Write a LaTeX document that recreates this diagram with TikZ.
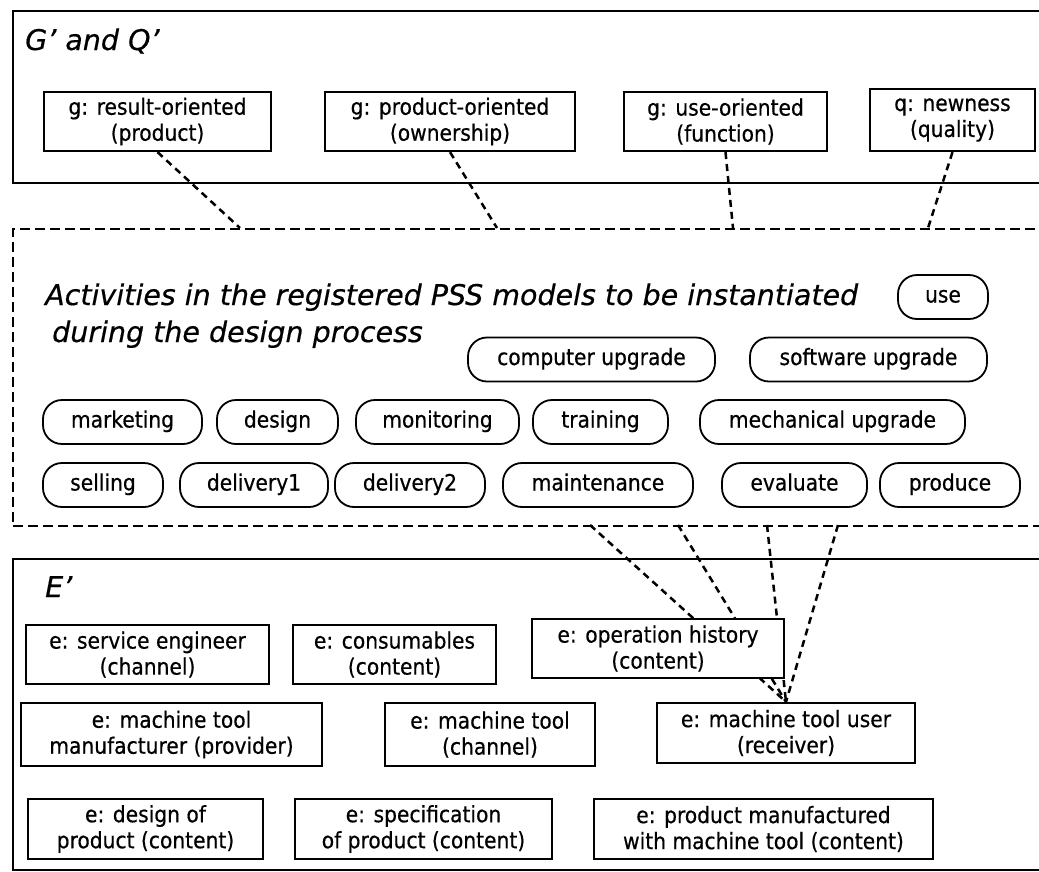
\documentclass[tikz,border=0pt]{standalone}
\usepackage{fontspec}
\setmainfont{DejaVu Sans Condensed}[FakeBold=0.5]
\newfontfamily\titlefont{DejaVu Sans}[FakeBold=0.5]
\begin{document}
\begin{tikzpicture}[x=1pt,y=-1pt,
  frame/.style={draw, line width=2.4pt},
  actframe/.style={draw, line width=2pt, dash pattern=on 10pt off 5pt},
  ebox/.style={draw, line width=2.2pt, fill=white, align=center, inner sep=0pt,
    minimum height=59, font=\fontsize{22.5}{26}\selectfont},
  pill/.style={draw, line width=1.8pt, fill=white, rounded corners=19pt,
    minimum height=44, inner sep=0pt, text height=16pt, text depth=5pt,
    font=\fontsize{22.5}{26}\selectfont},
  title/.style={anchor=base west, inner sep=0pt, font=\titlefont\itshape\fontsize{28.5}{37}\selectfont},
  link/.style={line width=2.5pt, dash pattern=on 7pt off 5pt}]
\useasboundingbox (0,0) rectangle (1039,871);
\fill[white] (0,0) rectangle (1039,871);
\clip (0,0) rectangle (1039,871);

% group of goals and qualities
\node[frame, minimum width=1045, minimum height=172, anchor=north west] (gq) at (12,10) {};
\node[title] (tgq) at (25,50) {G’ and Q’};
\node[ebox, minimum width=227] (g1) at (157.5,121.5) {g: result-oriented\\(product)};
\node[ebox, minimum width=250] (g2) at (450,121.5) {g: product-oriented\\(ownership)};
\node[ebox, minimum width=203] (g3) at (725.5,121.5) {g: use-oriented\\(function)};
\node[ebox, minimum width=165, minimum height=62] (q1) at (952.5,120) {q: newness\\(quality)};

% registered activities
\node[actframe, minimum width=1045, minimum height=297, anchor=north west] (act) at (12,228) {};
\node[title, align=left] (tact) at (45,342)
  {Activities in the registered PSS models to be instantiated\\\hspace{7pt}during the design process};

\node[pill, minimum width=90]  (use)    at (943,297)   {use};
\node[pill, minimum width=247] (compup) at (591.5,359.5) {computer upgrade};
\node[pill, minimum width=237] (softup) at (868.5,359.5) {software upgrade};
\node[pill, minimum width=159] (mark)   at (122.5,422) {marketing};
\node[pill, minimum width=121] (des)    at (277.5,422) {design};
\node[pill, minimum width=163] (mon)    at (437.5,422) {monitoring};
\node[pill, minimum width=135] (train)  at (600.5,422) {training};
\node[pill, minimum width=265] (mechup) at (832.5,422) {mechanical upgrade};
\node[pill, minimum width=120] (sell)   at (103,485)   {selling};
\node[pill, minimum width=148] (del1)   at (254,485)   {delivery1};
\node[pill, minimum width=150] (del2)   at (410,485)   {delivery2};
\node[pill, minimum width=190] (maint)  at (598,485)   {maintenance};
\node[pill, minimum width=145] (eval)   at (794.5,485) {evaluate};
\node[pill, minimum width=140] (prod)   at (950,485)   {produce};

% group of entities
\node[frame, minimum width=1045, minimum height=311, anchor=north west] (ent) at (12,558) {};
\node[title] (tent) at (45,597) {E’};

% attachment points on the activity frame
\coordinate (at1) at (240,228);
\coordinate (at2) at (497,228);
\coordinate (at3) at (733,228);
\coordinate (at4) at (928,228);
\coordinate (ab1) at (590,525);
\coordinate (ab2) at (678,525);
\coordinate (ab3) at (767,525);
\coordinate (ab4) at (838,525);

\node[ebox, minimum width=258, minimum height=60] (mtu) at (786,733) {e: machine tool user\\(receiver)};

% links
\draw[link] (g1.south) -- (at1);
\draw[link] (g2.south) -- (at2);
\draw[link] (g3.south) -- (at3);
\draw[link] (q1.south) -- (at4);
\draw[link] (ab1) -- (mtu.north);
\draw[link] (ab2) -- (mtu.north);
\draw[link] (ab3) -- (mtu.north);
\draw[link] (ab4) -- (mtu.north);

% entities
\node[ebox, minimum width=243] (seng) at (147.5,654.5) {e: service engineer\\(channel)};
\node[ebox, minimum width=203] (cons) at (394.5,654.5) {e: consumables\\(content)};
\node[ebox, minimum width=252] (ophist) at (658,648.5) {e: operation history\\(content)};
\node[ebox, minimum width=301, minimum height=63] (mtm) at (171.5,734.5) {e: machine tool\\manufacturer (provider)};
\node[ebox, minimum width=210, minimum height=63] (mtc) at (490,734.5) {e: machine tool\\(channel)};
\node[ebox, minimum width=235, minimum height=60] (dprod) at (145.5,829) {e: design of\\product (content)};
\node[ebox, minimum width=257, minimum height=60] (sprod) at (423.5,829) {e: specification\\of product (content)};
\node[ebox, minimum width=339, minimum height=60] (pmt) at (763.5,829) {e: product manufactured\\with machine tool (content)};
\end{tikzpicture}
\end{document}
